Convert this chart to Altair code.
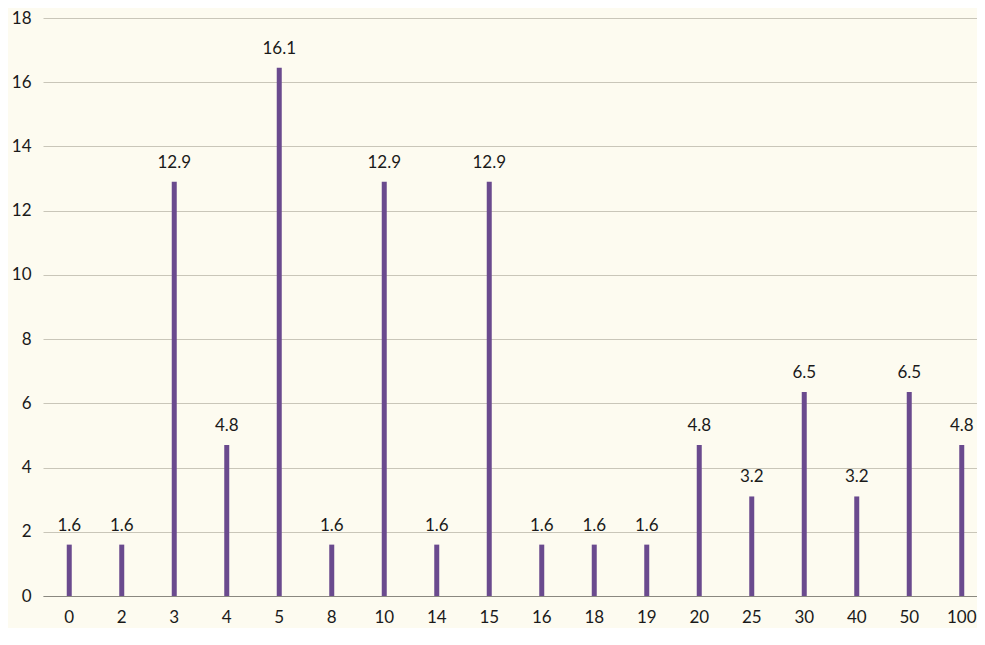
import altair as alt
import pandas as pd

categories = ["0", "2", "3", "4", "5", "8", "10", "14", "15", "16", "18", "19",
              "20", "25", "30", "40", "50", "100"]
bar_values = [1.6, 1.6, 12.9, 4.7, 16.45, 1.6, 12.9, 1.6, 12.9, 1.6, 1.6, 1.6,
              4.7, 3.1, 6.35, 3.1, 6.35, 4.7]
bar_labels = ["1.6", "1.6", "12.9", "4.8", "16.1", "1.6", "12.9", "1.6", "12.9",
              "1.6", "1.6", "1.6", "4.8", "3.2", "6.5", "3.2", "6.5", "4.8"]
y_ticks = [0, 2, 4, 6, 8, 10, 12, 14, 16, 18]

df = pd.DataFrame({"cat": categories, "value": bar_values, "label": bar_labels})

FONT = "Lato"
FS = 17
TXT = "#1a1a1a"
x_enc = alt.X("cat:N", sort=categories,
              scale=alt.Scale(range=[-2, 943], paddingInner=0, paddingOuter=0),
              axis=alt.Axis(title=None, labelAngle=0, ticks=False, labelPadding=13,
                            domain=True, domainColor="#8a8880", domainWidth=1.2,
                            labelFont=FONT, labelFontSize=FS, labelColor=TXT,
                            grid=False))
y_enc = alt.Y("value:Q",
              scale=alt.Scale(domain=[0, 18], nice=False),
              axis=alt.Axis(title=None, values=y_ticks, ticks=False, domain=False,
                            labelPadding=14, labelFont=FONT, labelFontSize=FS,
                            labelColor=TXT, gridColor="#c9c6b9", gridWidth=1))

bars = alt.Chart(df).mark_bar(color="#6a4a8e", size=5).encode(x=x_enc, y=y_enc)
text = alt.Chart(df).mark_text(baseline="bottom", dy=-10, font=FONT, fontSize=FS,
                               color=TXT).encode(
    x=alt.X("cat:N", sort=categories), y="value:Q", text="label:N")

chart = (bars + text).properties(
    width=932, height=578,
    background="#fdfbf0",
    padding={"left": 37, "top": 10, "right": 0, "bottom": 32},
    autosize=alt.AutoSizeParams(type="none"),
).configure_view(stroke=None)

chart.save("out.html", embed_options={"renderer": "svg", "actions": False})
